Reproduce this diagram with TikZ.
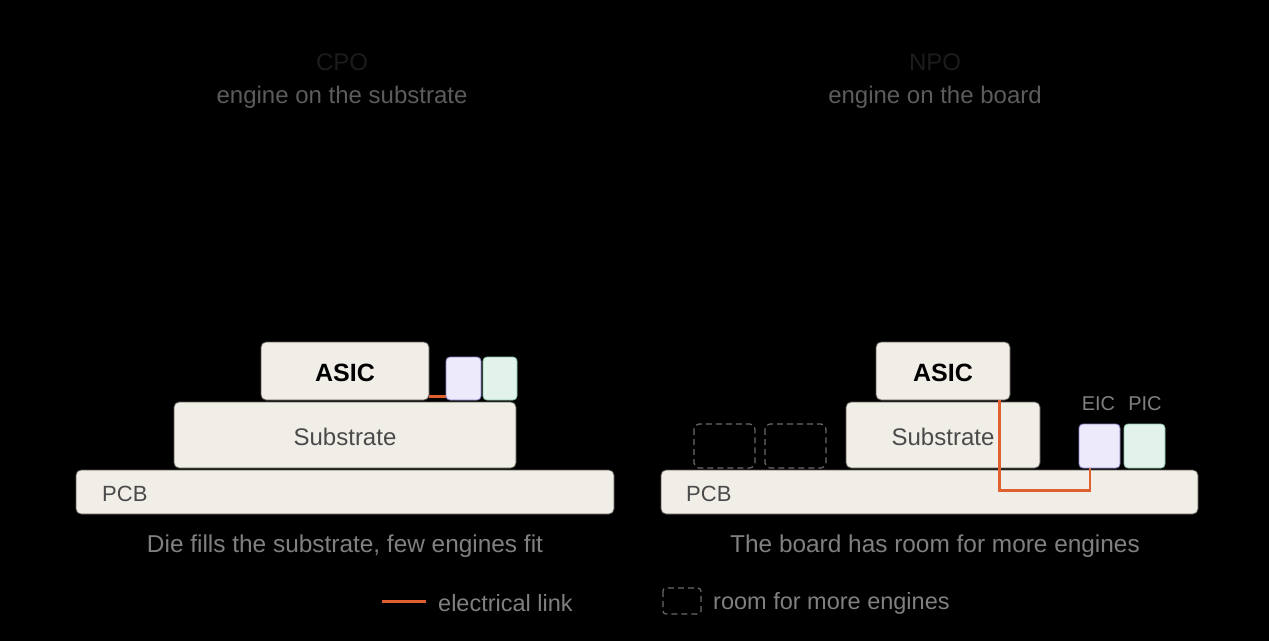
\documentclass[tikz,border=0pt]{standalone}
\usepackage{fontspec}
\setmainfont{Liberation Sans}
\definecolor{bg}{HTML}{000000}
\definecolor{boxfill}{HTML}{F1EEE8}
\definecolor{boxline}{HTML}{5A5751}
\definecolor{eicfill}{HTML}{ECEAFB}
\definecolor{eicline}{HTML}{8C86C8}
\definecolor{picfill}{HTML}{E1F3EA}
\definecolor{picline}{HTML}{8FC4AA}
\definecolor{link}{HTML}{E0602F}
\definecolor{titlecol}{HTML}{1C1C1C}
\definecolor{subcol}{HTML}{5C5C5C}
\definecolor{capcol}{HTML}{808080}
\definecolor{txt}{HTML}{4A4A4A}
\definecolor{dashcol}{HTML}{6A6A6A}
\tikzset{
  layer/.style={draw=boxline, line width=0.8pt, fill=boxfill, rounded corners=5pt, inner sep=0pt},
  eic/.style={draw=eicline, line width=0.8pt, fill=eicfill, rounded corners=4pt, inner sep=0pt},
  pic/.style={draw=picline, line width=0.8pt, fill=picfill, rounded corners=4pt, inner sep=0pt},
  room/.style={draw=dashcol, line width=1.2pt, dash pattern=on 6pt off 4pt, rounded corners=5pt},
  elink/.style={draw=link, line width=2.6pt},
  lbl/.style={text=txt, font=\fontsize{22}{26}\selectfont, inner sep=0pt},
  ttl/.style={text=titlecol, font=\fontsize{24}{28}\selectfont, inner sep=0pt},
  subt/.style={text=subcol, font=\fontsize{24}{28}\selectfont, inner sep=0pt},
  captxt/.style={text=capcol, font=\fontsize{24.4}{28}\selectfont, inner sep=0pt},
  chiplbl/.style={text=capcol, font=\fontsize{20}{24}\selectfont, inner sep=0pt},
  asiclbl/.style={text=black, font=\fontsize{25}{29}\selectfont\bfseries, inner sep=0pt},
}
\begin{document}
\begin{tikzpicture}[x=1pt,y=-1pt]
\fill[bg] (0,0) rectangle (1269,641);
\useasboundingbox (0,0) rectangle (1269,641);

% ---------- CPO ----------
\node[ttl] (cpot) at (342,62) {CPO};
\node[subt] (cpos) at (342,97) {engine on the substrate};

\draw[layer] (76,470) rectangle (614,514);
\node[lbl, anchor=west] (pcb1) at (102,493.5) {PCB};
\draw[layer] (174,402) rectangle (516,468);
\node[lbl, font=\fontsize{24}{28}\selectfont] (sub1) at (345,437) {Substrate};
\draw[layer] (261,342) rectangle (429,400);
\node[asiclbl] (asic1) at (345,372.5) {ASIC};
\coordinate (asic1r) at (429,396.5);
\coordinate (eic1l) at (446,396.5);
\draw[elink] (asic1r) -- (eic1l);
\draw[eic] (446,357) rectangle (481,400);
\draw[pic] (483,357) rectangle (517,400);

\node[captxt] (cap1) at (345,546) {Die fills the substrate, few engines fit};

% ---------- NPO ----------
\node[ttl] (npot) at (935,62) {NPO};
\node[subt] (npos) at (935,97) {engine on the board};

\draw[layer] (661,470) rectangle (1198,514);
\node[lbl, anchor=west] (pcb2) at (686,493.5) {PCB};
\draw[layer] (846,402) rectangle (1040,468);
\node[lbl, font=\fontsize{24}{28}\selectfont] (sub2) at (943,437) {Substrate};
\draw[layer] (876,342) rectangle (1010,400);
\node[asiclbl] (asic2) at (943,372.5) {ASIC};

\draw[room] (694,424) rectangle (755,468);
\draw[room] (765,424) rectangle (826,468);

\coordinate (asic2b) at (999.5,400);
\coordinate (eic2b) at (1090,468);
\draw[elink, line width=2.2pt] (asic2b) -- (999.5,490.5) -- (1090,490.5) -- (eic2b);

\draw[eic] (1079,424) rectangle (1120,468);
\draw[pic] (1124,424) rectangle (1165,468);
\node[chiplbl] (eicl) at (1098.5,404) {EIC};
\node[chiplbl] (picl) at (1145,404) {PIC};

\node[captxt] (cap2) at (935,546) {The board has room for more engines};

% ---------- Legend ----------
\coordinate (lg1a) at (382,601);
\coordinate (lg1b) at (426,601);
\draw[elink, line width=3pt] (lg1a) -- (lg1b);
\node[captxt, anchor=west, font=\fontsize{23.5}{28}\selectfont] (lg1t) at (438,603) {electrical link};
\draw[room, rounded corners=3pt] (663,588) rectangle (701,614);
\node[captxt, anchor=west, font=\fontsize{23.5}{28}\selectfont] (lg2t) at (713,603) {room for more engines};
\end{tikzpicture}
\end{document}
